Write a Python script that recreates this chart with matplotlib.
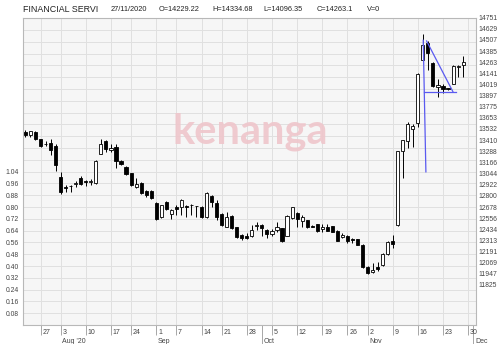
import matplotlib
matplotlib.use("Agg")
import matplotlib.pyplot as plt
import numpy as np
import pandas as pd

plt.rcParams['font.family'] = ['Liberation Sans', 'DejaVu Sans']

# ---------------- data ----------------
holidays = ['2020-07-31', '2020-08-20', '2020-08-31', '2020-09-16', '2020-10-29']
start_date = '2020-07-22'
calendar_end = '2020-12-04'

opens = [13500, 13464, 13497, 13417, 13373, 13380, 13351, 13008, 12892, 12903,
         12925, 13001, 12961, 12950, 12943, 13256, 13402, 13307, 13337, 13183,
         13118, 13045, 12899, 12943, 12852, 12855, 12724, 12564, 12731, 12600,
         12673, 12673, 12688, 12699, 12684, 12680, 12571, 12804, 12717, 12600,
         12454, 12578, 12454, 12370, 12360, 12363, 12465, 12480, 12425, 12381,
         12425, 12444, 12363, 12553, 12618, 12527, 12531, 12473, 12487, 12436,
         12458, 12465, 12418, 12345, 12360, 12327, 12323, 12261, 12017, 11970,
         12021, 12039, 12163, 12305, 12480, 13289, 13402, 13530, 13599, 14284,
         14477, 14259, 13992, 14003, 13978, 14029, 14211, 14229.22]
highs = [13519, 13511, 13508, 13424, 13402, 13420, 13366, 13063, 12917, 12917,
         12961, 13016, 12979, 12990, 13198, 13417, 13409, 13373, 13373, 13198,
         13125, 13052, 13001, 12954, 12863, 12863, 12731, 12702, 12739, 12651,
         12699, 12761, 12699, 12706, 12692, 12688, 12844, 12812, 12753, 12608,
         12626, 12586, 12462, 12378, 12389, 12480, 12509, 12487, 12433, 12436,
         12516, 12451, 12589, 12680, 12626, 12589, 12538, 12476, 12494, 12487,
         12487, 12473, 12425, 12389, 12371, 12341, 12331, 12268, 12035, 12061,
         12079, 12170, 12305, 12371, 13296, 13413, 13603, 13592, 14146, 14576,
         14492, 14266, 14076, 14029, 13981, 14229, 14229, 14334.68]
lows = [13446, 13439, 13409, 13337, 13351, 13245, 13074, 12819, 12844, 12844,
        12899, 12917, 12906, 12917, 12935, 13256, 13282, 13282, 13100, 13136,
        13027, 12910, 12881, 12826, 12790, 12764, 12535, 12557, 12644, 12546,
        12589, 12589, 12571, 12589, 12571, 12557, 12553, 12673, 12535, 12469,
        12454, 12436, 12334, 12320, 12327, 12352, 12425, 12363, 12341, 12363,
        12407, 12298, 12356, 12546, 12454, 12454, 12444, 12458, 12407, 12407,
        12411, 12400, 12301, 12334, 12280, 12280, 12261, 12010, 11941, 11951,
        11977, 12032, 12155, 12225, 12473, 12998, 13326, 13337, 13555, 14277,
        14175, 13992, 13883, 13931, 13963, 14022, 14102, 14096.35]
closes = [13464, 13511, 13417, 13344, 13366, 13307, 13136, 12844, 12885, 12910,
          12943, 12928, 12954, 12961, 13183, 13366, 13318, 13329, 13183, 13147,
          13038, 12917, 12925, 12834, 12808, 12772, 12542, 12695, 12651, 12644,
          12659, 12753, 12677, 12699, 12690, 12564, 12834, 12735, 12571, 12480,
          12571, 12444, 12345, 12341, 12341, 12425, 12480, 12444, 12378, 12414,
          12458, 12305, 12582, 12673, 12546, 12564, 12454, 12462, 12418, 12458,
          12418, 12407, 12309, 12370, 12309, 12312, 12265, 12017, 11959, 11988,
          11995, 12163, 12298, 12276, 13289, 13406, 13584, 13566, 14138, 14455,
          14368, 14003, 14018, 13967, 13970, 14222, 14222, 14263.1]

price_ticks = [14751, 14629, 14507, 14385, 14263, 14141, 14019, 13897, 13775,
               13653, 13532, 13410, 13288, 13166, 13044, 12922, 12800, 12678,
               12556, 12434, 12313, 12191, 12069, 11947, 11825]
volume_ticks = [0.08, 0.16, 0.24, 0.32, 0.40, 0.48, 0.56, 0.64, 0.72, 0.80,
                0.88, 0.96, 1.04]
volume_labels = ['0.08', '0.16', '0.24', '0.32', '0.40', '0.48', '0.56', '0.64',
                 '0.72', '0.80', '0.88', '0.96', '1.04']

week_dates = ['2020-07-27', '2020-08-03', '2020-08-10', '2020-08-17', '2020-08-24',
              '2020-09-01', '2020-09-07', '2020-09-14', '2020-09-21', '2020-09-28',
              '2020-10-05', '2020-10-12', '2020-10-19', '2020-10-26', '2020-11-02',
              '2020-11-09', '2020-11-16', '2020-11-23', '2020-11-30']
week_labels = ['27', '3', '10', '17', '24', '1', '7', '14', '21', '28', '5', '12',
               '19', '26', '2', '9', '16', '23', '30']
month_dates = ['2020-08-03', '2020-09-01', '2020-10-01', '2020-11-02', '2020-12-01']
month_labels = ["Aug '20", 'Sep', 'Oct', 'Nov', 'Dec']

# drawn trend lines: (start index, start price, end index, end price)
trend_lines = [(79.07, 14503, 79.6, 13063),
               (79.3, 13937, 85.56, 13937),
               (79.74, 14495, 85.0, 13937)]

header_items = [('FINANCIAL SERVI', 6.4), ('27/11/2020', 5.3), ('O=14229.22', 5.3),
                ('H=14334.68', 5.3), ('L=14096.35', 5.3), ('C=14263.1', 5.3),
                ('V=0', 5.3)]
header_x = [23, 111, 159, 212, 263, 317, 367]

# ---------------- figure ----------------
cal = pd.bdate_range(start_date, calendar_end, freq='C', holidays=holidays)
n = len(opens)
xs = np.arange(n)

def idx(d):
    return cal.get_loc(pd.Timestamp(d))

W, H = 500, 344
fig = plt.figure(figsize=(5, 3.44), dpi=100)
fig.patch.set_facecolor('white')
ax = fig.add_axes([22.5 / W, 19 / H, (475.7 - 22.5) / W, (325 - 17.5) / H])
ax.set_facecolor('#f6f6f6')
ax.set_xlim(-0.58, 89.5)
ax.set_ylim(0, 2.085)

grid_levels = np.arange(0.08, 2.085, 0.08)
for g in grid_levels:
    ax.axhline(g, color='#e0e0e0', lw=0.7, zorder=0)
ax.set_yticks(volume_ticks)
ax.set_yticklabels(volume_labels)
ax.tick_params(axis='y', length=0, pad=2.5, labelsize=4.9, labelcolor='#444444')

wk = [idx(d) for d in week_dates]
mo = [idx(d) for d in month_dates]
for x in wk:
    ax.axvline(x, color='#e0e0e0', lw=0.7, zorder=0)
ax.set_xticks(wk)
ax.set_xticklabels([])
ax.set_xticks(mo, minor=True)
ax.tick_params(axis='x', which='major', length=7, width=0.6, color='#999999',
               direction='out')
ax.tick_params(axis='x', which='minor', length=14, width=0.6, color='#999999',
               direction='out')
trans = ax.get_xaxis_transform()
for x, lab in zip(wk, week_labels):
    ax.text(x + 0.35, -0.024, lab, transform=trans, ha='left', va='center',
            fontsize=5, color='#444444', clip_on=False)
for x, lab in zip(mo, month_labels):
    ax.text(x + 0.35, -0.053, lab, transform=trans, ha='left', va='center',
            fontsize=5, color='#444444', clip_on=False)

for s in ax.spines.values():
    s.set_color('#b8b8b8')
    s.set_linewidth(0.8)

# price axis
ax2 = ax.twinx()
ax2.set_ylim(11387, 14752)
ax2.set_xlim(-0.58, 89.5)
ax2.set_yticks(price_ticks)
ax2.set_yticklabels([str(t) for t in price_ticks])
ax2.tick_params(axis='y', length=0, pad=2, labelsize=4.9, labelcolor='#444444')
for s in ax2.spines.values():
    s.set_visible(False)

o = np.array(opens, float)
h = np.array(highs, float)
l = np.array(lows, float)
c = np.array(closes, float)
ax2.vlines(xs, l, h, color='black', lw=0.7, zorder=2)
bottoms = np.minimum(o, c)
heights = np.maximum(np.abs(c - o), 6)
face = ['white' if cc >= oo else 'black' for oo, cc in zip(o, c)]
ax2.bar(xs, heights, bottom=bottoms, width=0.62, color=face, edgecolor='black',
        linewidth=0.6, zorder=3)

for x0, y0, x1, y1 in trend_lines:
    ax2.plot([x0, x1], [y0, y1], color='#5a5af0', lw=0.9, zorder=4)

# watermark
fig.text(250 / W, 1 - 143 / H, 'kenanga', ha='center', va='baseline',
         fontsize=30, family='Lato', fontweight='bold', color='#efc6cb',
         zorder=1, alpha=0.9)

# header
for (txt, fs), x in zip(header_items, header_x):
    fig.text(x / W, 1 - 9.3 / H, txt, ha='left', va='center', fontsize=fs,
             color='#222222')

fig.savefig('out.png', dpi=100)
